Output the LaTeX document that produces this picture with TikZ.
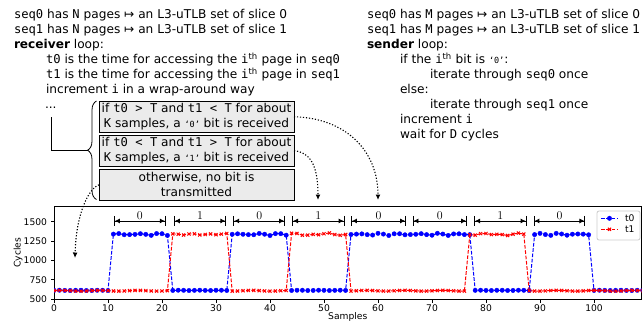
\documentclass[tikz,border=0pt]{standalone}
\usepackage[no-math]{fontspec}
\setmainfont{DejaVu Sans}
\setmonofont{DejaVu Sans Mono}
\usetikzlibrary{arrows.meta,decorations.pathreplacing}

\newcommand{\code}[1]{\texttt{#1}}
\newcommand{\ith}{\texttt{i}\textsuperscript{th}}
\newcommand{\qbit}[1]{{\ttfamily\fontsize{8.5}{8.5}\selectfont ‘#1’}}

\begin{document}
\begin{tikzpicture}[x=1bp,y=-1bp,
  declare function={
    hz(\x)=and(\x>10.5,\x<21.5)+and(\x>32.5,\x<43.5)+and(\x>54.5,\x<77.5)+and(\x>88.5,\x<99.5);
    ho(\x)=and(\x>21.5,\x<32.5)+and(\x>43.5,\x<54.5)+and(\x>76.5,\x<87.5);
    nz(\x)=8*sin(\x*97.3)+6*sin(\x*131.9+40);
    no(\x)=8*sin(\x*113.7+60)+6*sin(\x*59.1);
    tz(\x)=612+2*sin(\x*97)+hz(\x)*(725+nz(\x));
    to(\x)=607+5*sin(\x*51+20)+ho(\x)*(730+no(\x));
  },
  every node/.style={inner sep=0pt, outer sep=0pt},
  txt/.style={anchor=base west, font=\fontsize{12.2}{15}\selectfont},
  cond/.style={draw, line width=0.8bp, fill=black!8, minimum width=195bp,
    minimum height=31.5bp, align=center, anchor=north west,
    font=\fontsize{12.2}{15}\selectfont},
  hint/.style={line width=1.1bp, dash pattern=on 1.2bp off 1.8bp,
    -{Latex[length=5.5bp,width=5bp]}},
  spine/.style={line width=0.8bp, black},
  ticklbl/.style={font=\fontsize{9.2}{9.2}\selectfont},
  t0line/.style={blue, line width=1bp, dash pattern=on 3.7bp off 1.6bp},
  t1line/.style={red, line width=1bp, dash pattern=on 3.7bp off 1.6bp},
  t0mark/.style={mark=*, mark size=2.2bp, mark options={solid, fill=blue, draw=blue, line width=0.4bp}},
  t1mark/.style={mark=x, mark size=2.2bp, mark options={solid, red, line width=1bp}},
  bitspan/.style={line width=0.9bp,
    {Bar[width=10bp] Latex[length=5bp,width=5bp]}-{Latex[length=5bp,width=5bp] Bar[width=10bp]}},
  bitlbl/.style={anchor=south, yshift=1.5bp, font=\fontsize{12.5}{12.5}\selectfont},
]
\useasboundingbox (0,0) rectangle (642,322);

% receiver pseudo-code
\node[txt] (l1) at (14,18.4)   {\code{seq0} has \code{N} pages ↦ an L3-uTLB set of slice 0};
\node[txt] (l2) at (14,33.4)   {\code{seq1} has \code{N} pages ↦ an L3-uTLB set of slice 1};
\node[txt] (l3) at (14,48.4)   {\textbf{receiver} loop:};
\node[txt] (l4) at (46,63.4)   {\code{t0} is the time for accessing the \ith{} page in \code{seq0}};
\node[txt] (l5) at (46,78.4)   {\code{t1} is the time for accessing the \ith{} page in \code{seq1}};
\node[txt] (l6) at (46,93.4)   {increment \code{i} in a wrap-around way};
\node[txt] (dots) at (45,108.4) {...};

% sender pseudo-code
\node[txt] (r1) at (367,18.4)  {\code{seq0} has \code{M} pages ↦ an L3-uTLB set of slice 0};
\node[txt] (r2) at (367,33.4)  {\code{seq1} has \code{M} pages ↦ an L3-uTLB set of slice 1};
\node[txt] (r3) at (367,48.4)  {\textbf{sender} loop:};
\node[txt] (r4) at (400,63.4)  {if the \ith{} bit is \qbit{0}:};
\node[txt] (r5) at (430,78.4)  {iterate through \code{seq0} once};
\node[txt] (r6) at (400,93.4)  {else:};
\node[txt] (r7) at (430,108.4) {iterate through \code{seq1} once};
\node[txt] (r8) at (400,123.4) {increment \code{i}};
\node[txt] (r9) at (400,138.4) {wait for \code{D} cycles};

% decision boxes
\node[cond] (c0) at (99,101) {if \code{t0 > T} and \code{t1 < T} for about\\\code{K} samples, a \qbit{0} bit is received};
\node[cond] (c1) at (99,135) {if \code{t0 < T} and \code{t1 > T} for about\\\code{K} samples, a \qbit{1} bit is received};
\node[cond] (cn) at (99,169) {otherwise, no bit is\\transmitted};

% brace grouping the cases
\coordinate (braceB) at (96.5,199.5);
\coordinate (braceT) at (96.5,101);
\coordinate (bracetip) at (87.5,150.25);
\coordinate (dotsfoot) at (51.7,117);
\draw[decorate, decoration={brace, amplitude=9bp}, line width=0.8bp] (braceB) -- (braceT);
\draw[line width=0.8bp] (dotsfoot) |- (bracetip);

% hints into the trace
\coordinate (hit0) at (378,200);
\coordinate (hit1) at (318,200);
\coordinate (hitn) at (75,258);
\draw[hint] (c0.east) .. controls (345,118) and (378,150) .. (hit0);
\draw[hint] (c1.east) .. controls (310,152) and (318,165) .. (hit1);
\draw[hint] (cn.west) .. controls (88,189) and (76,215) .. (hitn);

% timing trace
\begin{scope}[shift={(54,337.65)}, x=5.4bp, y=0.0773bp]
  \draw[spine] (0,500) rectangle (108.8,1703);
  \foreach \s in {0,10,...,100} {
    \draw[spine] (\s,500) -- ([yshift=-3.5bp]\s,500)
      node[ticklbl, anchor=north, yshift=-2.3bp] (xt\s) {\s};
  }
  \foreach \v in {500,750,...,1500} {
    \draw[spine] (0,\v) -- ([xshift=-3.5bp]0,\v)
      node[ticklbl, anchor=east, xshift=-3.5bp] (yt\v) {\v};
  }
  \node[ticklbl, rotate=90] (ylab) at ([xshift=-36bp]0,1100) {Cycles};
  \node[ticklbl] (xlab) at ([yshift=-18bp]54.4,500) {Samples};

  \begin{scope}
    \clip (0,500) rectangle (108.8,1703);
    \draw[t0line, t0mark] plot[samples at={0,...,109}] (\x,{tz(\x)});
    \draw[t1line, t1mark] plot[samples at={0,...,109}] (\x,{to(\x)});
  \end{scope}

  \foreach \a/\b/\bit [count=\k] in {11.1/20.7/0, 22.2/31.9/1, 33.2/42.8/0, 44.1/53.8/1,
      55/65.2/0, 66.4/76.5/0, 77.8/87.5/1, 88.8/98.4/0} {
    \coordinate (spanL\k) at (\a,1510);
    \coordinate (spanR\k) at (\b,1510);
    \draw[bitspan] (spanL\k) -- (spanR\k) node[bitlbl, midway] (bit\k) {$\bit$};
  }
\end{scope}

% legend
\draw[draw=black!20, fill=white, rounded corners=2bp, line width=0.8bp] (597,211) rectangle (640,240);
\draw[t0line, t0mark, mark indices={2}] plot coordinates {(601,218.3) (609.5,218.3) (618,218.3)};
\draw[t1line, t1mark, mark indices={2}] plot coordinates {(601,229.3) (609.5,229.3) (618,229.3)};
\node[ticklbl, anchor=west] (lg0) at (625,218.3) {t0};
\node[ticklbl, anchor=west] (lg1) at (625,229.3) {t1};
\end{tikzpicture}
\end{document}
